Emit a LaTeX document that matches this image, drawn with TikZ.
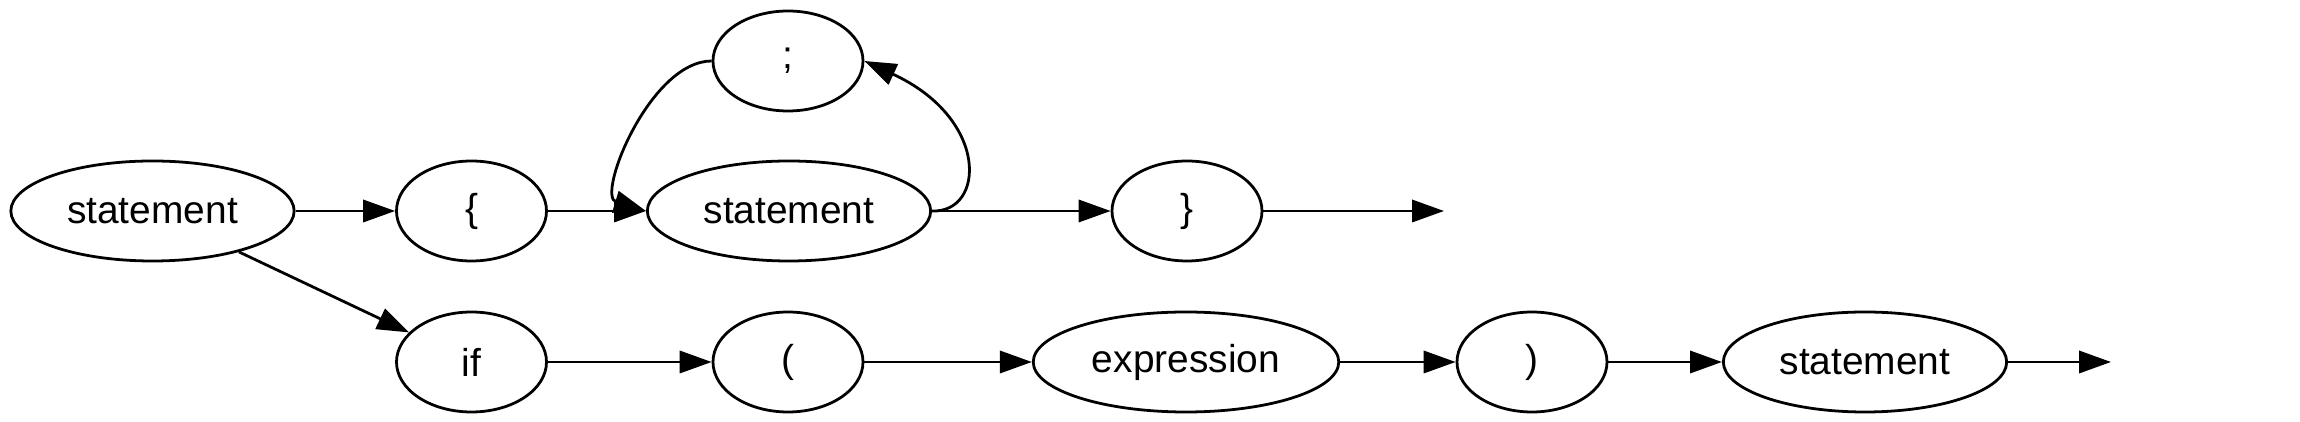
\documentclass[tikz,border=0pt]{standalone}
\usepackage{fontspec}
\setmainfont{Liberation Sans}
\usetikzlibrary{shapes.geometric,arrows.meta}
\begin{document}
\begin{tikzpicture}[x=0.36pt,y=-0.36pt,
  nd/.style={draw,ellipse,line width=1pt,inner sep=0pt,minimum height=36pt,font=\fontsize{14}{16.8}\selectfont},
  sm/.style={nd,minimum width=54pt},
  wd/.style={nd,minimum width=102pt},
  ww/.style={nd,minimum width=110pt},
  edge/.style={line width=1pt,-{Triangle[length=11.5pt,width=8pt]}}]
\useasboundingbox (0,0) rectangle (2300,422);
\node[wd] (s1) at (152.5,211) {statement};
\node[sm] (lb) at (471.5,211) {\{};
\node[sm] (semi) at (788,61) {;};
\node[wd] (s2) at (789,211) {statement};
\node[sm] (rb) at (1187,211) {\}};
\coordinate (e1) at (1444,211);
\node[sm] (if) at (471.5,362) {if};
\node[sm] (lp) at (788,362) {(};
\node[ww] (ex) at (1186,362) {expression};
\node[sm] (rp) at (1532,362) {)};
\node[wd] (s3) at (1865,362) {statement};
\coordinate (e2) at (2111,362);
\draw[edge] (s1) -- (lb);
\draw[edge] (s1) -- (if);
\draw[edge] (lb) -- (s2);
\draw[edge] (s2.east) .. controls (985,213) and (990,119) .. (semi.east);
\draw[edge] (semi.west) .. controls (650,61) and (596,196) .. (s2.west);
\draw[edge] (s2) -- (rb);
\draw[edge] (rb) -- (e1);
\draw[edge] (if) -- (lp);
\draw[edge] (lp) -- (ex);
\draw[edge] (ex) -- (rp);
\draw[edge] (rp) -- (s3);
\draw[edge] (s3) -- (e2);
\end{tikzpicture}
\end{document}
